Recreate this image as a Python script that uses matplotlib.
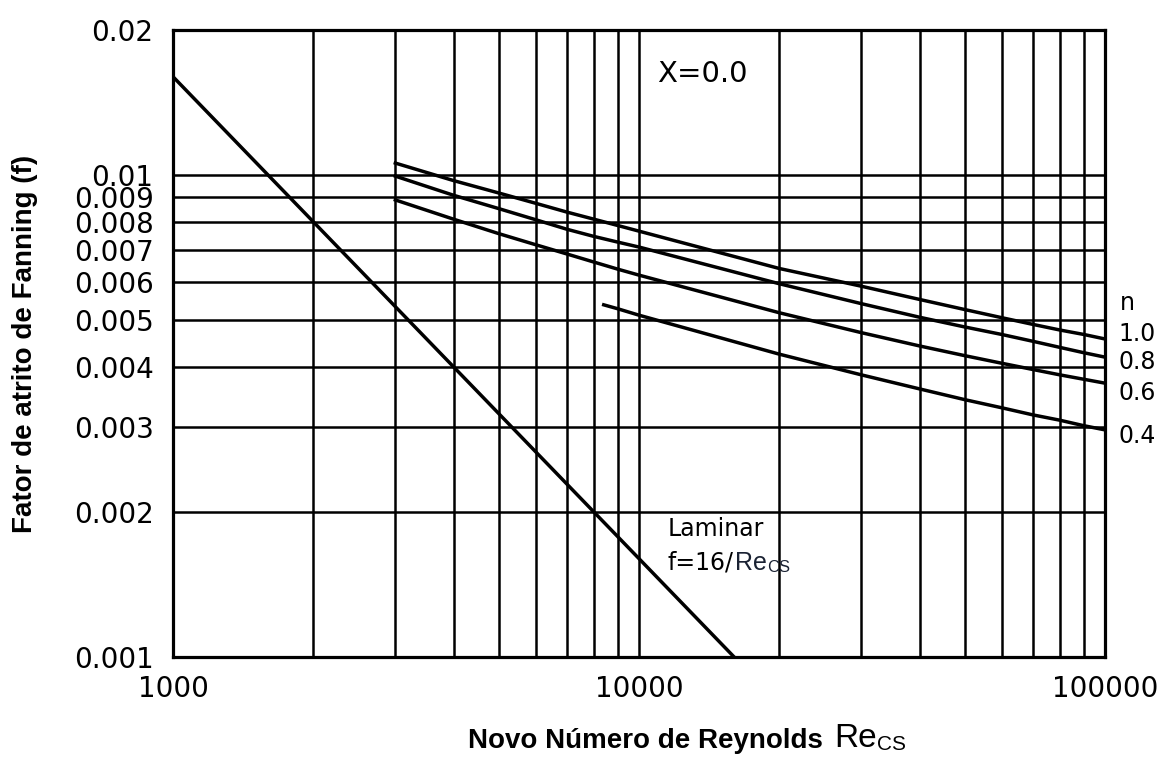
import matplotlib
matplotlib.use("Agg")
import matplotlib.pyplot as plt
from matplotlib.ticker import FixedLocator, NullLocator, NullFormatter

# Reynolds numbers where the turbulent curves were read
re_grid = [3000, 4000, 5000, 6000, 7000, 8000, 9000, 10000,
           20000, 30000, 40000, 50000, 60000, 70000, 80000, 90000, 100000]

# Fanning friction factor for each flow index n
f_n10 = [0.01059, 0.00974, 0.00918, 0.00874, 0.00838, 0.00810, 0.00786, 0.00765,
         0.00640, 0.00588, 0.00552, 0.00526, 0.00506, 0.00490, 0.00477, 0.00467, 0.00457]
f_n08 = [0.00995, 0.00908, 0.00852, 0.00808, 0.00772, 0.00746, 0.00726, 0.00709,
         0.00595, 0.00541, 0.00507, 0.00484, 0.00467, 0.00452, 0.00439, 0.00428, 0.00419]
f_n06 = [0.00888, 0.00810, 0.00756, 0.00717, 0.00686, 0.00660, 0.00638, 0.00620,
         0.00518, 0.00471, 0.00442, 0.00422, 0.00407, 0.00395, 0.00385, 0.00377, 0.00370]

re_n04 = [8400, 9000, 10000, 20000, 30000, 40000, 50000, 60000, 70000, 80000, 90000, 100000]
f_n04 = [0.00538, 0.00528, 0.00512, 0.00425, 0.00385, 0.00360, 0.00342, 0.00329,
         0.00318, 0.00310, 0.00302, 0.00296]

# laminar line f = 16/Re
laminar_re = [1000, 16000]
laminar_f = [16 / r for r in laminar_re]

n_labels = ["1.0", "0.8", "0.6", "0.4"]
n_label_f = [0.00468, 0.00409, 0.00353, 0.00287]

x_major = [1000, 10000, 100000]
x_minor = [2000, 3000, 4000, 5000, 6000, 7000, 8000, 9000,
           20000, 30000, 40000, 50000, 60000, 70000, 80000, 90000]
y_ticks = [0.001, 0.002, 0.003, 0.004, 0.005, 0.006, 0.007, 0.008, 0.009, 0.01, 0.02]
y_ticklabels = ["0.001", "0.002", "0.003", "0.004", "0.005", "0.006",
                "0.007", "0.008", "0.009", "0.01", "0.02"]

plt.rcParams["font.family"] = "DejaVu Sans"

fig = plt.figure(figsize=(11.64, 7.58), dpi=100)
ax = fig.add_axes([173 / 1164, 1 - 657 / 758, (1105 - 173) / 1164, (657 - 30) / 758])

ax.set_xscale("log")
ax.set_yscale("log")
ax.set_xlim(1000, 100000)
ax.set_ylim(0.001, 0.02)

ax.xaxis.set_major_locator(FixedLocator(x_major))
ax.xaxis.set_minor_locator(FixedLocator(x_minor))
ax.xaxis.set_minor_formatter(NullFormatter())
ax.set_xticklabels([str(v) for v in x_major])
ax.yaxis.set_major_locator(FixedLocator(y_ticks))
ax.yaxis.set_minor_locator(NullLocator())
ax.set_yticklabels(y_ticklabels)

ax.tick_params(axis="both", which="both", length=0, labelsize=20)
ax.tick_params(axis="y", pad=14)
ax.tick_params(axis="x", pad=13)

ax.grid(True, axis="x", which="both", color="black", linewidth=1.8)
ax.grid(True, axis="y", which="major", color="black", linewidth=1.8)
for sp in ax.spines.values():
    sp.set_linewidth(2.3)

# friction factor curves
lw = 2.5
ax.plot(laminar_re, laminar_f, color="black", lw=lw)
ax.plot(re_grid, f_n10, color="black", lw=lw)
ax.plot(re_grid, f_n08, color="black", lw=lw)
ax.plot(re_grid, f_n06, color="black", lw=lw)
ax.plot(re_n04, f_n04, color="black", lw=lw)

# labels on the right side
ax.text(107500, 0.00542, "n", fontsize=17, ha="left", va="center", clip_on=False)
for lab, fv in zip(n_labels, n_label_f):
    ax.text(107000, fv, lab, fontsize=17, ha="left", va="center", clip_on=False)

ax.text(10930, 0.0162, "X=0.0", fontsize=21, ha="left", va="center")

ax.text(11540, 0.00184, "Laminar", fontsize=17, ha="left", va="center")
t_eq = ax.text(11540, 0.00157, "f=16/", fontsize=17, ha="left", va="center")
t_re = ax.annotate("Re", xy=(1, 0), xycoords=t_eq, xytext=(1, 0),
                   textcoords="offset points", fontsize=18, family="Liberation Sans",
                   color="#1a2233", ha="left", va="bottom")
ax.annotate("CS", xy=(1, 0), xycoords=t_re, xytext=(0, 0),
            textcoords="offset points", fontsize=12, family="Liberation Sans",
            color="#1a2233", ha="left", va="bottom")

# axis titles
fig.text(25 / 1164, 1 - 344 / 758, "Fator de atrito de Fanning (f)", rotation=90,
         ha="center", va="center", fontsize=20, fontweight="bold", family="Liberation Sans")
t_x = fig.text(468 / 1164, 1 - 748 / 758, "Novo Número de Reynolds", ha="left",
               va="baseline", fontsize=20, fontweight="bold", family="Liberation Sans")
t_xre = ax.annotate("Re", xy=(1, 0), xycoords=t_x, xytext=(8, 0),
                    textcoords="offset points", fontsize=24, family="Liberation Sans",
                    ha="left", va="bottom", annotation_clip=False)
ax.annotate("CS", xy=(1, 0), xycoords=t_xre, xytext=(0, 0),
            textcoords="offset points", fontsize=15, family="Liberation Sans",
            ha="left", va="bottom", annotation_clip=False)

fig.savefig("out.png", dpi=100)
